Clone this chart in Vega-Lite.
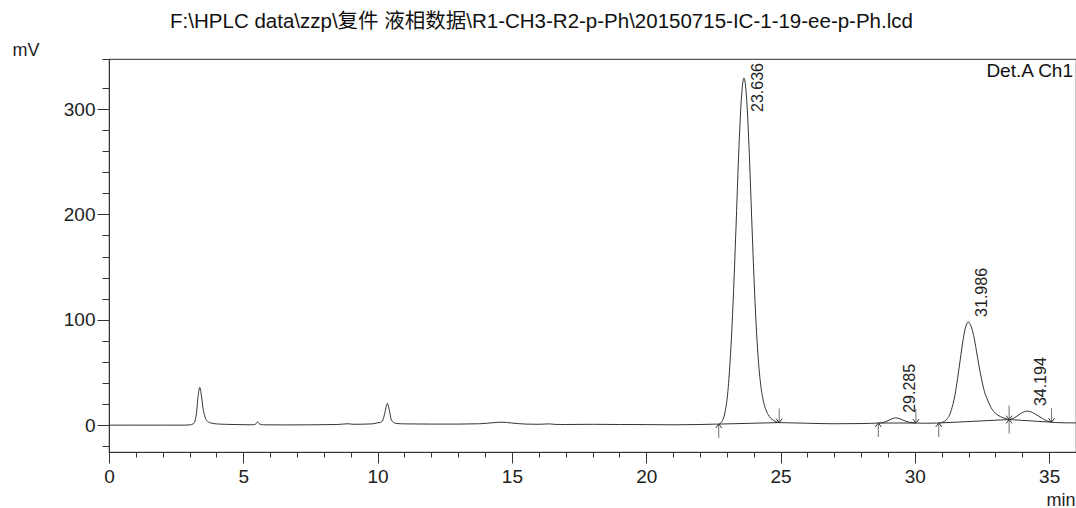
{
  "$schema": "https://vega.github.io/schema/vega-lite/v6.json",
  "width": 967,
  "height": 393,
  "autosize": {"type": "none"},
  "padding": {"left": 109, "top": 59, "right": 0, "bottom": 56},
  "background": "white",
  "title": {
    "text": "F:\\HPLC data\\zzp\\复件 液相数据\\R1-CH3-R2-p-Ph\\20150715-IC-1-19-ee-p-Ph.lcd",
    "anchor": "middle",
    "dx": -51,
    "dy": 20,
    "offset": 13,
    "baseline": "alphabetic",
    "fontSize": 20.5,
    "fontWeight": "normal",
    "color": "#111",
    "font": "Liberation Sans, Noto Sans CJK SC"
  },
  "config": {
    "view": {"stroke": "#555", "strokeWidth": 1.2},
    "font": "Liberation Sans",
    "axis": {"labelOverlap": false}
  },
  "resolve": {"axis": {"x": "independent", "y": "independent"}},
  "datasets": {
    "chrom": [
      {"t": 0, "v": 0}, {"t": 1, "v": 0}, {"t": 2, "v": 0}, {"t": 2.8, "v": 0},
      {"t": 3.0, "v": 0.2}, {"t": 3.15, "v": 1.5}, {"t": 3.25, "v": 10}, {"t": 3.32, "v": 28},
      {"t": 3.38, "v": 35.8}, {"t": 3.44, "v": 28}, {"t": 3.5, "v": 16}, {"t": 3.56, "v": 9},
      {"t": 3.62, "v": 5}, {"t": 3.7, "v": 3}, {"t": 3.8, "v": 2}, {"t": 4.0, "v": 1.2},
      {"t": 4.3, "v": 0.8}, {"t": 4.8, "v": 0.5}, {"t": 5.3, "v": 0.3}, {"t": 5.45, "v": 0.8},
      {"t": 5.53, "v": 3.0}, {"t": 5.6, "v": 1.2}, {"t": 5.75, "v": 0.3}, {"t": 6.5, "v": 0.2},
      {"t": 7.5, "v": 0.3}, {"t": 8.5, "v": 0.6}, {"t": 8.9, "v": 1.3}, {"t": 9.1, "v": 0.8},
      {"t": 9.8, "v": 1.2}, {"t": 10.0, "v": 2.2}, {"t": 10.1, "v": 2.5}, {"t": 10.2, "v": 5},
      {"t": 10.28, "v": 13}, {"t": 10.36, "v": 20.6}, {"t": 10.43, "v": 15}, {"t": 10.5, "v": 6},
      {"t": 10.58, "v": 2.8}, {"t": 10.7, "v": 1.6}, {"t": 11.0, "v": 1.2}, {"t": 12.0, "v": 1.0},
      {"t": 13.0, "v": 1.0}, {"t": 13.8, "v": 1.3}, {"t": 14.3, "v": 2.3}, {"t": 14.6, "v": 2.8},
      {"t": 15.0, "v": 2.0}, {"t": 15.5, "v": 1.0}, {"t": 16.0, "v": 0.8}, {"t": 16.4, "v": 1.2},
      {"t": 16.6, "v": 0.7}, {"t": 17, "v": 0.6}, {"t": 18, "v": 0.8}, {"t": 19, "v": 0.6},
      {"t": 20, "v": 0.5}, {"t": 21, "v": 0.3}, {"t": 22, "v": 0.6}, {"t": 22.5, "v": 0.9},
      {"t": 22.7, "v": 1.0}, {"t": 22.78, "v": 2.2}, {"t": 22.86, "v": 5.5}, {"t": 22.94, "v": 13},
      {"t": 23.04, "v": 32}, {"t": 23.14, "v": 68}, {"t": 23.24, "v": 120}, {"t": 23.34, "v": 186},
      {"t": 23.44, "v": 256}, {"t": 23.54, "v": 309}, {"t": 23.59, "v": 324}, {"t": 23.636, "v": 329.5},
      {"t": 23.69, "v": 324}, {"t": 23.74, "v": 309}, {"t": 23.84, "v": 256}, {"t": 23.94, "v": 187},
      {"t": 24.04, "v": 123}, {"t": 24.14, "v": 74}, {"t": 24.24, "v": 43}, {"t": 24.34, "v": 25.5},
      {"t": 24.44, "v": 15.5}, {"t": 24.54, "v": 10}, {"t": 24.64, "v": 6.5}, {"t": 24.74, "v": 4.5},
      {"t": 24.84, "v": 3.3}, {"t": 24.95, "v": 2.4}, {"t": 25.3, "v": 2.2}, {"t": 26, "v": 1.8},
      {"t": 27, "v": 1.3}, {"t": 28, "v": 1.5}, {"t": 28.64, "v": 2.0}, {"t": 28.8, "v": 2.4},
      {"t": 29.0, "v": 4.2}, {"t": 29.15, "v": 6.0}, {"t": 29.285, "v": 6.9}, {"t": 29.45, "v": 6.0},
      {"t": 29.6, "v": 4.3}, {"t": 29.75, "v": 3.0}, {"t": 29.9, "v": 2.3}, {"t": 30.04, "v": 2.0},
      {"t": 30.4, "v": 1.8}, {"t": 30.89, "v": 2.0}, {"t": 30.99, "v": 2.6}, {"t": 31.09, "v": 3.4},
      {"t": 31.19, "v": 5.5}, {"t": 31.29, "v": 9.5}, {"t": 31.39, "v": 17}, {"t": 31.49, "v": 28},
      {"t": 31.59, "v": 44}, {"t": 31.69, "v": 62}, {"t": 31.79, "v": 80}, {"t": 31.89, "v": 93},
      {"t": 31.986, "v": 98}, {"t": 32.09, "v": 94}, {"t": 32.19, "v": 85}, {"t": 32.29, "v": 71},
      {"t": 32.39, "v": 56}, {"t": 32.49, "v": 43}, {"t": 32.59, "v": 32}, {"t": 32.69, "v": 25},
      {"t": 32.79, "v": 19}, {"t": 32.89, "v": 14.5}, {"t": 32.99, "v": 11.5}, {"t": 33.09, "v": 9.5},
      {"t": 33.19, "v": 8}, {"t": 33.29, "v": 7}, {"t": 33.4, "v": 6}, {"t": 33.51, "v": 5.3},
      {"t": 33.65, "v": 6.3}, {"t": 33.8, "v": 8.5}, {"t": 33.95, "v": 11.2}, {"t": 34.08, "v": 12.8},
      {"t": 34.194, "v": 13.3}, {"t": 34.32, "v": 12.6}, {"t": 34.45, "v": 11}, {"t": 34.6, "v": 8.7},
      {"t": 34.75, "v": 6.3}, {"t": 34.9, "v": 4.3}, {"t": 35.09, "v": 2.8}, {"t": 35.3, "v": 2.4},
      {"t": 35.6, "v": 2.2}, {"t": 36.0, "v": 2.1}
    ],
    "baselines": [
      {"t": 22.7, "v": 1.0, "t2": 24.95, "v2": 2.4},
      {"t": 28.64, "v": 2.0, "t2": 30.04, "v2": 2.0},
      {"t": 30.89, "v": 2.0, "t2": 33.51, "v2": 5.3},
      {"t": 33.51, "v": 5.3, "t2": 35.09, "v2": 2.8}
    ],
    "arrows": [
      {"t": 22.7, "v": 1.0, "dir": "up"},
      {"t": 24.95, "v": 2.4, "dir": "down"},
      {"t": 28.64, "v": 2.0, "dir": "up"},
      {"t": 30.04, "v": 2.0, "dir": "down"},
      {"t": 30.89, "v": 2.0, "dir": "up"},
      {"t": 33.51, "v": 5.3, "dir": "up"},
      {"t": 33.51, "v": 5.3, "dir": "down"},
      {"t": 35.09, "v": 2.8, "dir": "down"}
    ],
    "peaks": [
      {"t": 23.636, "v": 329.5, "label": "23.636"},
      {"t": 29.285, "v": 6.9, "label": "29.285"},
      {"t": 31.986, "v": 98, "label": "31.986"},
      {"t": 34.194, "v": 13.3, "label": "34.194"}
    ]
  },
  "layer": [
    {
      "data": {"name": "chrom"},
      "mark": {"type": "line", "interpolate": "monotone", "color": "#333", "strokeWidth": 1},
      "encoding": {
        "x": {
          "field": "t", "type": "quantitative",
          "scale": {"domain": [0, 36], "nice": false, "zero": false},
          "axis": {
            "orient": "bottom",
            "values": [0, 5, 10, 15, 20, 25, 30, 35],
            "tickSize": 11,
            "labelPadding": 4,
            "labelFontSize": 19,
            "labelFont": "Liberation Sans",
            "labelColor": "#222",
            "labelOverlap": false,
            "labelFlush": false,
            "labelBound": false,
            "domainColor": "#333",
            "tickColor": "#333",
            "grid": false,
            "title": "min",
            "titleFont": "Liberation Sans",
            "titleFontSize": 18,
            "titleFontWeight": "normal",
            "titleColor": "#222",
            "titleX": 966,
            "titleY": 53,
            "titleAlign": "right",
            "titleBaseline": "alphabetic"
          }
        },
        "y": {
          "field": "v", "type": "quantitative",
          "scale": {"domain": [-25.5, 347.5], "nice": false, "zero": false},
          "axis": {
            "orient": "left",
            "values": [0, 100, 200, 300],
            "tickSize": 12,
            "labelPadding": 2,
            "labelFontSize": 19,
            "labelFont": "Liberation Sans",
            "labelColor": "#222",
            "labelOverlap": false,
            "domainColor": "#333",
            "tickColor": "#333",
            "grid": false,
            "title": "mV",
            "titleFont": "Liberation Sans",
            "titleFontSize": 18,
            "titleFontWeight": "normal",
            "titleColor": "#222",
            "titleAngle": 0,
            "titleX": -97,
            "titleY": -4,
            "titleAlign": "left",
            "titleBaseline": "alphabetic"
          }
        }
      }
    },
    {
      "data": {"name": "baselines"},
      "mark": {"type": "rule", "color": "#333", "strokeWidth": 1},
      "encoding": {
        "x": {
          "field": "t", "type": "quantitative",
          "axis": {
            "orient": "bottom",
            "values": [0,1,2,3,4,5,6,7,8,9,10,11,12,13,14,15,16,17,18,19,20,21,22,23,24,25,26,27,28,29,30,31,32,33,34,35,36],
            "tickSize": 5,
            "labels": false,
            "domain": false,
            "grid": false,
            "tickColor": "#333",
            "title": null
          }
        },
        "x2": {"field": "t2"},
        "y": {
          "field": "v", "type": "quantitative",
          "axis": {
            "orient": "left",
            "values": [-20,0,20,40,60,80,100,120,140,160,180,200,220,240,260,280,300,320,347.5],
            "tickSize": 7,
            "labels": false,
            "domain": false,
            "grid": false,
            "tickColor": "#333",
            "title": null
          }
        },
        "y2": {"field": "v2"}
      }
    },
    {
      "data": {"name": "arrows"},
      "transform": [{"filter": "datum.dir === 'up'"}],
      "layer": [
        {
          "mark": {"type": "tick", "orient": "vertical", "size": 14, "thickness": 1, "color": "#333", "yOffset": 7},
          "encoding": {
            "x": {"field": "t", "type": "quantitative", "axis": null},
            "y": {"field": "v", "type": "quantitative", "axis": null}
          }
        },
        {
          "mark": {"type": "point", "shape": "M-1,1.3L0,0L1,1.3", "size": 36, "filled": false, "stroke": "#333", "strokeWidth": 1, "opacity": 1},
          "encoding": {
            "x": {"field": "t", "type": "quantitative", "axis": null},
            "y": {"field": "v", "type": "quantitative", "axis": null}
          }
        }
      ]
    },
    {
      "data": {"name": "arrows"},
      "transform": [{"filter": "datum.dir === 'down'"}],
      "layer": [
        {
          "mark": {"type": "tick", "orient": "vertical", "size": 14, "thickness": 1, "color": "#333", "yOffset": -7},
          "encoding": {
            "x": {"field": "t", "type": "quantitative", "axis": null},
            "y": {"field": "v", "type": "quantitative", "axis": null}
          }
        },
        {
          "mark": {"type": "point", "shape": "M-1,-1.3L0,0L1,-1.3", "size": 36, "filled": false, "stroke": "#333", "strokeWidth": 1, "opacity": 1},
          "encoding": {
            "x": {"field": "t", "type": "quantitative", "axis": null},
            "y": {"field": "v", "type": "quantitative", "axis": null}
          }
        }
      ]
    },
    {
      "data": {"name": "peaks"},
      "transform": [{"filter": "datum.v < 200"}],
      "mark": {"type": "text", "angle": 270, "align": "left", "baseline": "middle", "dx": 5, "dy": 14, "fontSize": 16, "font": "Liberation Sans", "color": "#222"},
      "encoding": {
        "x": {"field": "t", "type": "quantitative", "axis": null},
        "y": {"field": "v", "type": "quantitative", "axis": null},
        "text": {"field": "label"}
      }
    },
    {
      "data": {"name": "peaks"},
      "transform": [{"filter": "datum.v >= 200"}],
      "mark": {"type": "text", "angle": 270, "align": "right", "baseline": "middle", "dy": 14, "fontSize": 16, "font": "Liberation Sans", "color": "#222"},
      "encoding": {
        "x": {"field": "t", "type": "quantitative", "axis": null},
        "y": {"datum": 343.7, "axis": null},
        "text": {"field": "label"}
      }
    },
    {
      "data": {"values": [{"det": "Det.A Ch1"}]},
      "mark": {"type": "text", "align": "right", "baseline": "alphabetic", "dx": -3, "dy": 18, "fontSize": 19, "font": "Liberation Sans", "color": "#111"},
      "encoding": {
        "x": {"datum": 36, "axis": null},
        "y": {"datum": 347.5, "axis": null},
        "text": {"field": "det"}
      }
    }
  ]
}
